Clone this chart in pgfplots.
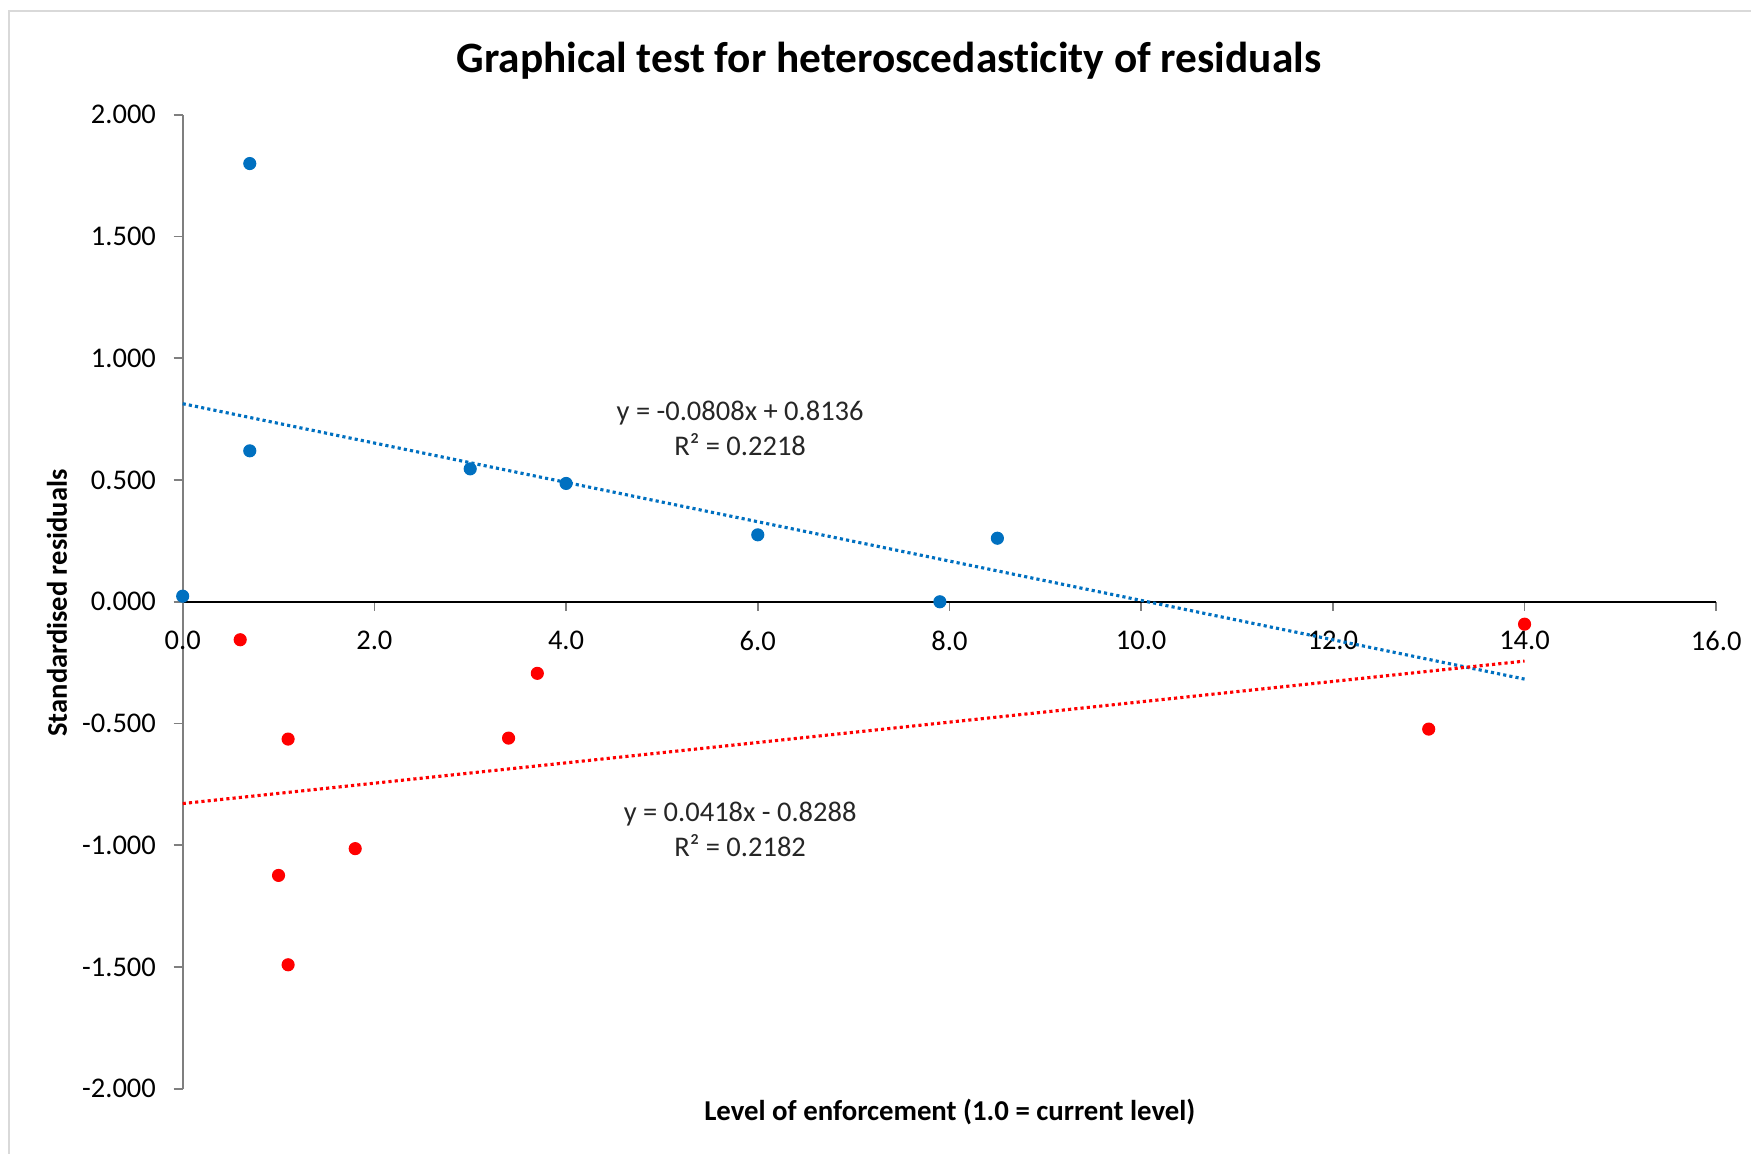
\documentclass[border=0pt]{standalone}
\usepackage{fontspec}
\setmainfont[Ligatures={NoCommon}]{Carlito}
\usepackage{pgfplots}
\pgfplotsset{compat=1.18}
\definecolor{xblue}{HTML}{0070C0}
\definecolor{xred}{HTML}{FF0000}
\definecolor{xgrid}{HTML}{D9D9D9}
\definecolor{xaxis}{HTML}{7F7F7F}
\begin{document}
\begin{tikzpicture}
\useasboundingbox (0,0) rectangle (614.4pt,404.9pt);
\draw[xgrid, line width=0.7pt] (3pt,0) -- (3pt,401.2pt) -- (614.4pt,401.2pt);
\node[anchor=base, font=\fontsize{15.2}{18}\selectfont\bfseries] at (311.9pt,379.5pt) {Graphical test for heteroscedasticity of residuals};
\node[anchor=base, font=\fontsize{10.1}{12}\selectfont\bfseries] at (333.3pt,11.6pt) {Level of enforcement (1.0 = current level)};
\node[anchor=base, rotate=90, font=\fontsize{10}{12}\selectfont\bfseries] at (23.5pt,193.3pt) {Standardised residuals};
\begin{axis}[
  at={(64.1pt,22.9pt)}, anchor=south west,
  scale only axis, width=538.1pt, height=341.7pt,
  xmin=0, xmax=16, ymin=-2, ymax=2,
  axis x line=middle, axis y line=left,
  hide obscured x ticks=false, hide obscured y ticks=false,
  x axis line style={-, black, line width=0.6pt},
  y axis line style={-, xaxis, line width=0.6pt},
  xtick={0,2,...,16}, ytick={-2,-1.5,...,2},
  tick style={xaxis, line width=0.6pt},
  major tick length=3.2pt,
  xtick align=outside, ytick align=outside,
  tick label style={font=\fontsize{10}{12}\selectfont, /pgf/number format/assume math mode=true},
  xticklabel style={/pgf/number format/fixed, /pgf/number format/fixed zerofill, /pgf/number format/precision=1, anchor=north, inner sep=0pt, yshift=-6.9pt},
  yticklabel style={/pgf/number format/fixed, /pgf/number format/fixed zerofill, /pgf/number format/precision=3, anchor=east, inner sep=0pt, xshift=-6pt},
  clip=false,
]
\addplot[only marks, mark=*, mark size=2.1pt, color=xblue, mark options={draw=none, fill=xblue}] coordinates {
  (0.7,1.80) (0.7,0.62) (0,0.023) (3.0,0.546) (4.0,0.486) (6.0,0.275) (7.9,0.0) (8.5,0.261)
};
\addplot[only marks, mark=*, mark size=2.1pt, color=xred, mark options={draw=none, fill=xred}] coordinates {
  (0.6,-0.156) (1.1,-0.564) (1.0,-1.124) (1.1,-1.491) (1.8,-1.014) (3.4,-0.560) (3.7,-0.294) (13.0,-0.523) (14.0,-0.092)
};
\addplot[xblue, line width=1.1pt, dash pattern=on 1.1pt off 1.1pt] coordinates {(0,0.8136) (14,-0.3176)};
\addplot[xred, line width=1.1pt, dash pattern=on 1.1pt off 1.1pt] coordinates {(0,-0.8288) (14,-0.2436)};
\node[anchor=base, font=\fontsize{10}{12}\selectfont, text=black!85] at (axis cs:5.816,0.743) {y = -0.0808x + 0.8136};
\node[anchor=base, font=\fontsize{10}{12}\selectfont, text=black!85] at (axis cs:5.816,0.601) {R² = 0.2218};
\node[anchor=base, font=\fontsize{10}{12}\selectfont, text=black!85] at (axis cs:5.816,-0.904) {y = 0.0418x - 0.8288};
\node[anchor=base, font=\fontsize{10}{12}\selectfont, text=black!85] at (axis cs:5.816,-1.046) {R² = 0.2182};
\end{axis}
\end{tikzpicture}
\end{document}
